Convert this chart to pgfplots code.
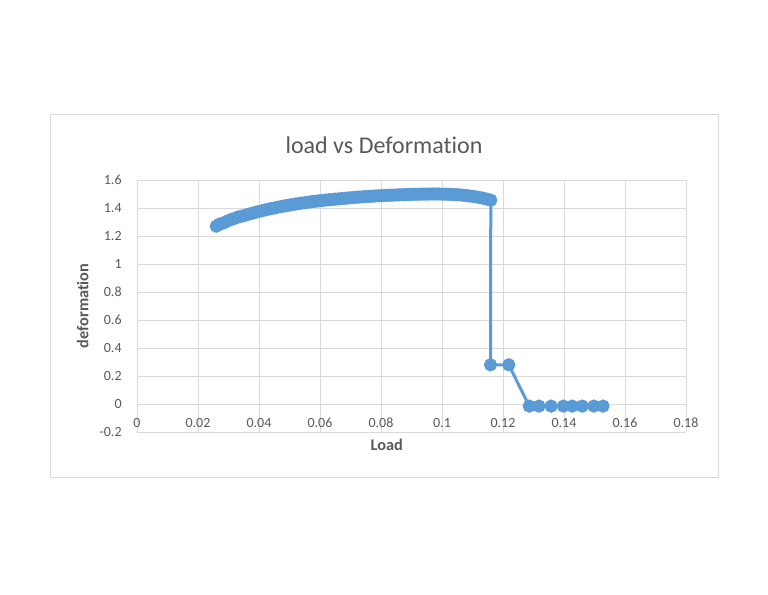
\documentclass[border=0pt]{standalone}
\usepackage{pgfplots}
\pgfplotsset{compat=1.18}
\usepackage{fontspec}
\setmainfont[Ligatures=NoCommon]{Carlito}
\definecolor{ser}{HTML}{5B9BD5}
\definecolor{txt}{HTML}{595959}
\definecolor{grd}{HTML}{D9D9D9}
\begin{document}
\begin{tikzpicture}[x=0.75pt,y=0.75pt]
\fill[white] (0,0) rectangle (768,594);
\draw[grd, line width=0.75pt] (50,117) rectangle (718,479);
\node[text=txt, font=\fontsize{18}{21}\selectfont] at (384,449) {load vs Deformation};
\begin{axis}[
  at={(102.75pt,121.5pt)}, anchor=south west, scale only axis,
  width=411.75pt, height=189pt,
  xmin=0, xmax=0.18, ymin=-0.2, ymax=1.6,
  xtick={0,0.02,0.04,0.06,0.08,0.1,0.12,0.14,0.16,0.18},
  xticklabels={0,0.02,0.04,0.06,0.08,0.1,0.12,0.14,0.16,0.18},
  ytick={-0.2,0,0.2,0.4,0.6,0.8,1,1.2,1.4,1.6},
  yticklabels={-0.2,0,0.2,0.4,0.6,0.8,1,1.2,1.4,1.6},
  grid=major, major grid style={grd, line width=0.75pt},
  axis line style={draw=none},
  major tick length=0pt,
  /pgf/number format/assume math mode=true,
  ticklabel style={font=\fontsize{10.5}{12}\selectfont, text=txt},
  xticklabel style={anchor=center, yshift=6.75pt},
  yticklabel style={anchor=east, xshift=-8pt},
  xlabel={Load}, ylabel={deformation},
  xlabel style={at={(axis description cs:0.455,-0.052)}, anchor=center, font=\bfseries\fontsize{12.2}{14}\selectfont, text=txt},
  ylabel style={at={(axis description cs:-0.099,0.5)}, anchor=center, font=\bfseries\fontsize{12.2}{14}\selectfont, text=txt},
]
\addplot[ser, line width=2.25pt, mark=*, mark size=3.8pt, mark options={fill=ser, draw=none}] coordinates {
(0.026,1.270) (0.027,1.285) (0.028,1.290) (0.029,1.300) (0.030,1.310)
(0.031,1.320) (0.032,1.325) (0.033,1.335) (0.034,1.340) (0.035,1.345)
(0.036,1.352) (0.037,1.358) (0.038,1.364) (0.039,1.370) (0.040,1.375)
(0.041,1.381) (0.042,1.386) (0.043,1.391) (0.044,1.396) (0.045,1.400)
(0.046,1.405) (0.047,1.409) (0.048,1.413) (0.049,1.417) (0.050,1.421)
(0.051,1.425) (0.052,1.428) (0.053,1.432) (0.054,1.435) (0.055,1.438)
(0.056,1.441) (0.057,1.444) (0.058,1.447) (0.059,1.449) (0.060,1.452)
(0.061,1.454) (0.062,1.457) (0.063,1.459) (0.064,1.461) (0.065,1.463)
(0.066,1.465) (0.067,1.467) (0.068,1.469) (0.069,1.471) (0.070,1.473)
(0.071,1.475) (0.072,1.477) (0.073,1.478) (0.074,1.480) (0.075,1.481)
(0.076,1.483) (0.077,1.484) (0.078,1.486) (0.079,1.487) (0.080,1.488)
(0.081,1.489) (0.082,1.490) (0.083,1.491) (0.084,1.492) (0.085,1.493)
(0.086,1.494) (0.087,1.495) (0.088,1.496) (0.089,1.497) (0.090,1.497)
(0.091,1.498) (0.092,1.498) (0.093,1.499) (0.094,1.499) (0.095,1.499)
(0.096,1.500) (0.097,1.500) (0.098,1.500) (0.099,1.500) (0.100,1.499)
(0.101,1.499) (0.102,1.498) (0.103,1.497) (0.104,1.496) (0.105,1.495)
(0.106,1.493) (0.107,1.491) (0.108,1.489) (0.109,1.486) (0.110,1.483)
(0.111,1.480) (0.112,1.476) (0.113,1.472) (0.114,1.467) (0.115,1.462)
(0.116,1.456)
(0.1159,0.28) (0.1219,0.28)
(0.1286,-0.015) (0.1318,-0.015) (0.1358,-0.015) (0.1398,-0.015)
(0.1427,-0.015) (0.1460,-0.015) (0.1498,-0.015) (0.1528,-0.015)
};
\end{axis}
\end{tikzpicture}
\end{document}
